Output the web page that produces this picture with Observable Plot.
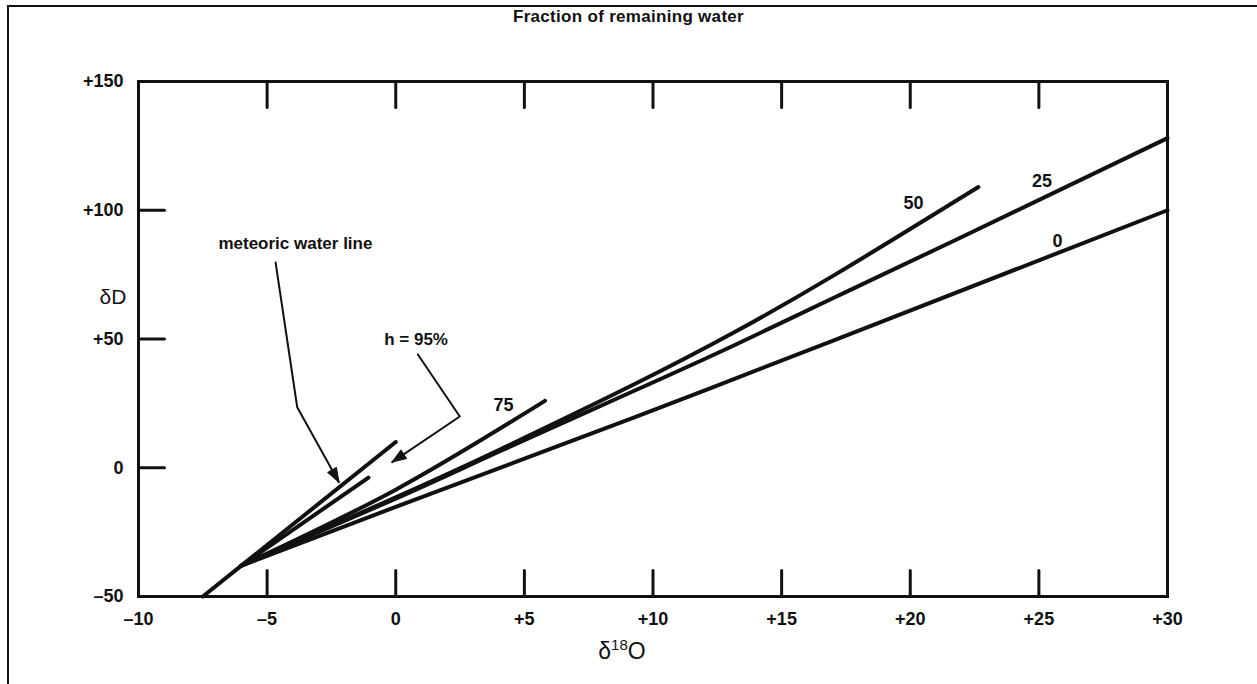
<!DOCTYPE html>
<html><head><meta charset="utf-8">
<script src="https://cdn.jsdelivr.net/npm/d3@7"></script>
<script src="https://cdn.jsdelivr.net/npm/@observablehq/plot@0.6"></script>
<style>
body{margin:0;background:#fff;font-family:"Liberation Sans",Arial,sans-serif;color:#111;}
#fig{position:relative;width:1257px;height:684px;overflow:hidden;background:#fff;}
#chart svg{position:absolute;left:0;top:0;}
.bt{position:absolute;left:7px;top:5px;width:1250px;height:2px;background:#111;}
.bl{position:absolute;left:7px;top:5px;width:2px;height:679px;background:#111;}
#title{position:absolute;left:0;width:1257px;top:7px;text-align:center;font-size:17px;font-weight:bold;letter-spacing:0.3px;}
.ax{position:absolute;transform:translate(-50%,-50%);white-space:nowrap;}
#ylab{left:113px;top:297px;font-size:21px;}
#xlab{left:622px;top:650px;font-size:23px;}
#xlab sup{font-size:15px;vertical-align:9px;}
</style></head>
<body>
<div id="fig">
  <div class="bt"></div><div class="bl"></div>
  <div id="chart"></div>
  <div id="title">Fraction of remaining water</div>
  <div class="ax" id="ylab">δD</div>
  <div class="ax" id="xlab">δ<sup>18</sup>O</div>
</div>
<script>
// ---- data ----
const xTicks = [-10, -5, 0, 5, 10, 15, 20, 25, 30];
const yTicks = [-50, 0, 50, 100, 150];

const meteoricLine = [[-7.5, -50], [-6, -38], [0, 10]];
const h95Line = [[-6, -38], [-1.06, -3.8]];
const frac75 = [[-6, -38], [0, -8.5], [5.8, 26]];
const frac50 = [[-6, -38], [0, -11.5], [4.07, 7.2], [9.25, 32.3], [13.14, 52.5], [17.03, 74.7], [21.56, 102.3], [22.65, 109]];
const frac25 = [[-6, -38], [0, -12], [4.07, 6.5], [9.25, 29.8], [13.14, 47.5], [17.03, 66], [21.56, 87.5], [30, 128]];
const frac0 = [[-6, -38], [0, -15.2], [9.25, 19.5], [17.03, 49.5], [30, 100]];

const fracLabels = ["75", "50", "25", "0"];
const fracLabelX = [4.19, 20.13, 25.12, 25.72];
const fracLabelY = [24.2, 102.6, 111.3, 87.9];

const noteTexts = ["meteoric water line", "h = 95%"];
const noteX = [-3.9, 0.79];
const noteY = [87.1, 49.8];

const meteoricPointer = [[-4.67, 79.7], [-3.83, 23.5], [-2.21, -5.6]];
const h95Pointer = [[0.86, 44.0], [2.49, 19.9], [-0.14, 2.2]];

// ---- build ----
const W = 1257, H = 684, mL = 138, mR = 90, mT = 81, mB = 88;
const xDomain = [xTicks[0], xTicks[xTicks.length - 1]];
const yDomain = [yTicks[0], yTicks[yTicks.length - 1]];
const kx = (W - mL - mR) / (xDomain[1] - xDomain[0]);
const ky = (H - mT - mB) / (yDomain[1] - yDomain[0]);

const fmt = d => d > 0 ? "+" + d : d < 0 ? "\u2013" + (-d) : "0";
const tickShape = {draw(ctx, l) { ctx.moveTo(0, 0); ctx.lineTo(0, -l); }};
const headShape = {draw(ctx) { ctx.moveTo(0, 0); ctx.lineTo(-5, 14); ctx.lineTo(5, 14); ctx.closePath(); }};
const pts = a => a.map(([x, y]) => ({x, y}));
const inner = a => a.slice(1, -1);
const labelData = fracLabels.map((t, i) => ({t, x: fracLabelX[i], y: fracLabelY[i]}));
const noteData = noteTexts.map((t, i) => ({t, x: noteX[i], y: noteY[i]}));
const head = a => {
  const [x1, y1] = a[a.length - 2], [x2, y2] = a[a.length - 1];
  const dx = (x2 - x1) * kx, dyUp = (y2 - y1) * ky;
  return {x: x2, y: y2, r: Math.atan2(dx, dyUp) * 180 / Math.PI};
};
const heads = [head(meteoricPointer), head(h95Pointer)];

const thick = {x: "x", y: "y", stroke: "#111", strokeWidth: 4, strokeLinecap: "round", curve: "natural"};
const thin = {x: "x", y: "y", stroke: "#111", strokeWidth: 2};

const chart = Plot.plot({
  width: W, height: H,
  marginLeft: mL, marginRight: mR, marginTop: mT, marginBottom: mB,
  style: {fontFamily: "'Liberation Sans', Arial, sans-serif", color: "#111", background: "transparent"},
  x: {domain: xDomain},
  y: {domain: yDomain},
  marks: [
    Plot.axisX(xTicks, {tickSize: 0, tickPadding: 16, tickFormat: fmt, fontSize: 18, fontWeight: "bold", label: null}),
    Plot.axisY(yTicks, {tickSize: 0, tickPadding: 15, tickFormat: fmt, fontSize: 18, fontWeight: "bold", label: null}),
    Plot.vector(inner(xTicks), {x: d => d, y: yDomain[0], length: 26, rotate: 0, anchor: "start", shape: tickShape, stroke: "#111", strokeWidth: 3}),
    Plot.vector(inner(xTicks), {x: d => d, y: yDomain[1], length: 26, rotate: 180, anchor: "start", shape: tickShape, stroke: "#111", strokeWidth: 3}),
    Plot.vector(inner(yTicks), {x: xDomain[0], y: d => d, length: 26, rotate: 90, anchor: "start", shape: tickShape, stroke: "#111", strokeWidth: 3}),
    Plot.line(pts(meteoricLine), thick),
    Plot.line(pts(h95Line), thick),
    Plot.line(pts(frac75), thick),
    Plot.line(pts(frac50), thick),
    Plot.line(pts(frac25), thick),
    Plot.line(pts(frac0), thick),
    Plot.line(pts(meteoricPointer), thin),
    Plot.line(pts(h95Pointer), thin),
    Plot.vector(heads, {x: "x", y: "y", rotate: "r", length: 14, anchor: "start", shape: headShape, fill: "#111", stroke: "#111", strokeWidth: 1}),
    Plot.text(labelData, {x: "x", y: "y", text: "t", fontSize: 18, fontWeight: "bold", fill: "#111"}),
    Plot.text(noteData, {x: "x", y: "y", text: "t", fontSize: 17, fontWeight: "bold", fill: "#111"}),
    Plot.frame({stroke: "#111", strokeWidth: 3})
  ]
});
document.getElementById("chart").append(chart);
</script>
</body></html>
